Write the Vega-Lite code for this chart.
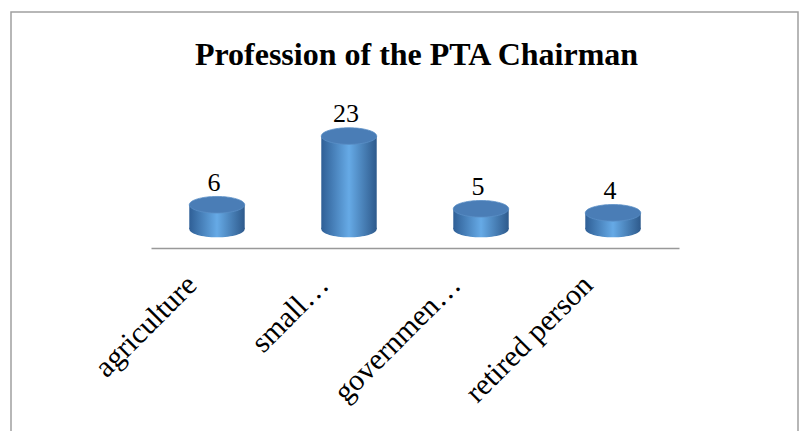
{
  "$schema": "https://vega.github.io/schema/vega-lite/v6.json",
  "width": 787,
  "height": 430,
  "padding": {"left": 11, "top": 12, "right": 12, "bottom": 0},
  "autosize": {"type": "none"},
  "background": "white",
  "title": {
    "text": "Profession of the PTA Chairman",
    "font": "Liberation Serif",
    "fontSize": 32,
    "fontWeight": "bold",
    "color": "black",
    "anchor": "middle",
    "offset": -60,
    "dx": 12
  },
  "config": {
    "view": {"stroke": "#a0a0a0", "strokeWidth": 1.5},
    "font": "Liberation Serif"
  },
  "data": {
    "values": [
      {"profession": "agriculture", "count": 6},
      {"profession": "small…", "count": 23},
      {"profession": "governmen…", "count": 5},
      {"profession": "retired person", "count": 4}
    ]
  },
  "encoding": {
    "x": {
      "field": "profession",
      "type": "nominal",
      "sort": null,
      "scale": {"range": [140, 668], "paddingInner": 0.58, "paddingOuter": 0.29},
      "axis": {
        "title": null,
        "offset": -194,
        "domainColor": "#999999",
        "domainWidth": 1.5,
        "ticks": false,
        "labelAngle": -45,
        "labelAlign": "right",
        "labelBaseline": "middle",
        "labelFont": "Liberation Serif",
        "labelFontSize": 30,
        "labelColor": "black",
        "labelPadding": 32,
        "labelOffset": -25,
        "labelLimit": 0
      }
    }
  },
  "layer": [
    {
      "mark": {
        "type": "point",
        "shape": "M -1 0 A 1 0.3 0 1 0 1 0 A 1 0.3 0 1 0 -1 0 Z",
        "size": 3070,
        "filled": true,
        "opacity": 1,
        "fill": {
          "gradient": "linear", "x1": 0, "x2": 1, "y1": 0, "y2": 0,
          "stops": [
            {"offset": 0, "color": "#2f5f96"},
            {"offset": 0.5, "color": "#66aae6"},
            {"offset": 1, "color": "#2e5a8c"}
          ]
        }
      },
      "encoding": {
        "y": {"datum": 0, "type": "quantitative", "scale": {"domain": [-52.7, 53.7]}, "axis": null}
      }
    },
    {
      "mark": {
        "type": "bar",
        "fill": {
          "gradient": "linear", "x1": 0, "x2": 1, "y1": 0, "y2": 0,
          "stops": [
            {"offset": 0, "color": "#2f5f96"},
            {"offset": 0.5, "color": "#66aae6"},
            {"offset": 1, "color": "#2e5a8c"}
          ]
        }
      },
      "encoding": {
        "y": {"field": "count", "type": "quantitative", "scale": {"domain": [-52.7, 53.7]}, "axis": null}
      }
    },
    {
      "mark": {
        "type": "point",
        "shape": "M -1 0 A 1 0.3 0 1 0 1 0 A 1 0.3 0 1 0 -1 0 Z",
        "size": 3070,
        "filled": true,
        "opacity": 1,
        "fill": "#4a7db6",
        "stroke": "#5a8fc6",
        "strokeWidth": 0.8
      },
      "encoding": {
        "y": {"field": "count", "type": "quantitative", "scale": {"domain": [-52.7, 53.7]}, "axis": null}
      }
    },
    {
      "mark": {
        "type": "text",
        "font": "Liberation Serif",
        "fontSize": 26,
        "color": "black",
        "baseline": "bottom",
        "dy": -9,
        "dx": -3
      },
      "encoding": {
        "y": {"field": "count", "type": "quantitative", "scale": {"domain": [-52.7, 53.7]}, "axis": null},
        "text": {"field": "count", "type": "quantitative"}
      }
    }
  ]
}
